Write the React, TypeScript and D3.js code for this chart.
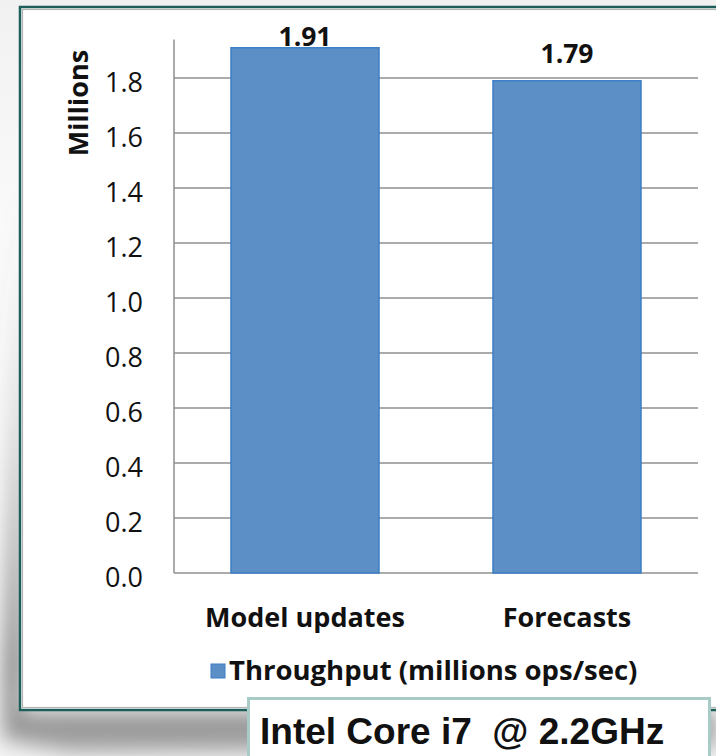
import React from "react";
import * as d3 from "d3";

const categories = ["Model updates", "Forecasts"];
const throughput = [1.91, 1.79];
const yTicks = [0, 0.2, 0.4, 0.6, 0.8, 1.0, 1.2, 1.4, 1.6, 1.8];
const seriesName = "Throughput (millions ops/sec)";
const axisTitle = "Millions";
const machineNote = "Intel Core i7  @ 2.2GHz";

const W = 716;
const H = 756;
const plot = { left: 174, right: 698, bottom: 573 };
const yTop = 1.94;
const unitPx = 275;

const BAR_FILL = "#5d8fc7";
const BAR_EDGE = "#3b7fc6";
const GRID = "#8f8f8f";
const FONT = "'Open Sans', Lato, sans-serif";

export default function App() {
  const y = d3
    .scaleLinear()
    .domain([0, yTop])
    .range([plot.bottom, plot.bottom - unitPx * yTop]);
  const x = d3
    .scaleBand<string>()
    .domain(categories)
    .range([plot.left, plot.right])
    .paddingInner(0.435)
    .paddingOuter(0.2175);
  const fmt = d3.format(".1f");
  const labelFloor = 46;

  return (
    <div style={{ position: "absolute", left: 0, top: 0, width: W, height: H, overflow: "hidden" }}>
      <svg width={W} height={H} viewBox={`0 0 ${W} ${H}`} style={{ display: "block" }}>
        <defs>
          <linearGradient id="bg" x1="0" y1="0" x2="0" y2="1">
            <stop offset="0" stopColor="#f1f1f1" />
            <stop offset="0.3" stopColor="#fafafa" />
            <stop offset="1" stopColor="#f4f4f4" />
          </linearGradient>
          <linearGradient id="shade" gradientUnits="userSpaceOnUse" x1="0" y1="150" x2="0" y2="756">
            <stop offset="0" stopColor="#6a6a6a" stopOpacity="0" />
            <stop offset="0.45" stopColor="#6a6a6a" stopOpacity="0.4" />
            <stop offset="0.85" stopColor="#6a6a6a" stopOpacity="0.9" />
            <stop offset="1" stopColor="#6a6a6a" stopOpacity="0.55" />
          </linearGradient>
          <filter id="soft" x="-20%" y="-20%" width="140%" height="140%">
            <feGaussianBlur stdDeviation="10" />
          </filter>
        </defs>

        <rect x={0} y={0} width={W} height={H} fill="url(#bg)" />
        {/* drop shadow behind the panel */}
        <path
          d="M22,160 L22,712 L716,712 L716,748 L70,752 L2,740 Z"
          fill="url(#shade)"
          filter="url(#soft)"
        />

        {/* chart panel */}
        <rect x={20} y={7} width={W} height={703} fill="#ffffff" stroke="#1b5e5a" strokeWidth={2.5} />
        <rect x={22.5} y={9.5} width={W} height={698} fill="none" stroke="#b4b4b4" strokeWidth={1.2} />

        {/* gridlines */}
        {yTicks.map((t) => (
          <line key={t} x1={plot.left} x2={plot.right} y1={y(t)} y2={y(t)} stroke={GRID} strokeWidth={1.5} />
        ))}
        {/* value axis line */}
        <line x1={plot.left} x2={plot.left} y1={y(yTop)} y2={y(0)} stroke={GRID} strokeWidth={1.5} />

        {/* tick labels */}
        {yTicks.map((t) => (
          <text key={t} x={143} y={y(t) + 14} textAnchor="end" fontFamily={FONT} fontSize={27} fill="#111">
            {fmt(t)}
          </text>
        ))}

        <text
          transform={`translate(88,103) rotate(-90)`}
          textAnchor="middle"
          fontFamily={FONT}
          fontWeight={700}
          fontSize={27}
          fill="#111"
        >
          {axisTitle}
        </text>

        {/* bars */}
        {categories.map((c, i) => (
          <rect
            key={c}
            x={x(c)}
            y={y(throughput[i])}
            width={x.bandwidth()}
            height={y(0) - y(throughput[i])}
            fill={BAR_FILL}
            stroke={BAR_EDGE}
            strokeWidth={1.5}
          />
        ))}

        {/* value labels */}
        {categories.map((c, i) => (
          <text
            key={c}
            x={(x(c) as number) + x.bandwidth() / 2}
            y={Math.max(y(throughput[i]) - 18, labelFloor)}
            textAnchor="middle"
            fontFamily={FONT}
            fontWeight={700}
            fontSize={26.5}
            fill="#111"
          >
            {throughput[i].toFixed(2)}
          </text>
        ))}

        {/* category labels */}
        {categories.map((c) => (
          <text
            key={c}
            x={(x(c) as number) + x.bandwidth() / 2}
            y={627}
            textAnchor="middle"
            fontFamily={FONT}
            fontWeight={700}
            fontSize={27}
            fill="#111"
          >
            {c}
          </text>
        ))}

        {/* legend */}
        <rect x={211} y={664} width={14} height={14} fill={BAR_FILL} stroke={BAR_EDGE} strokeWidth={1} />
        <text x={229} y={680} fontFamily={FONT} fontWeight={700} fontSize={27.5} fill="#111">
          {seriesName}
        </text>

        {/* machine note */}
        <rect x={248.5} y={698.5} width={461} height={80} fill="#ffffff" stroke="#a9cbc8" strokeWidth={3} />
        <text
          x={260}
          y={744}
          fontFamily="'Liberation Sans', Arial, sans-serif"
          fontWeight={700}
          fontSize={37}
          fill="#111"
          style={{ whiteSpace: "pre" }}
        >
          {machineNote}
        </text>
      </svg>
    </div>
  );
}
